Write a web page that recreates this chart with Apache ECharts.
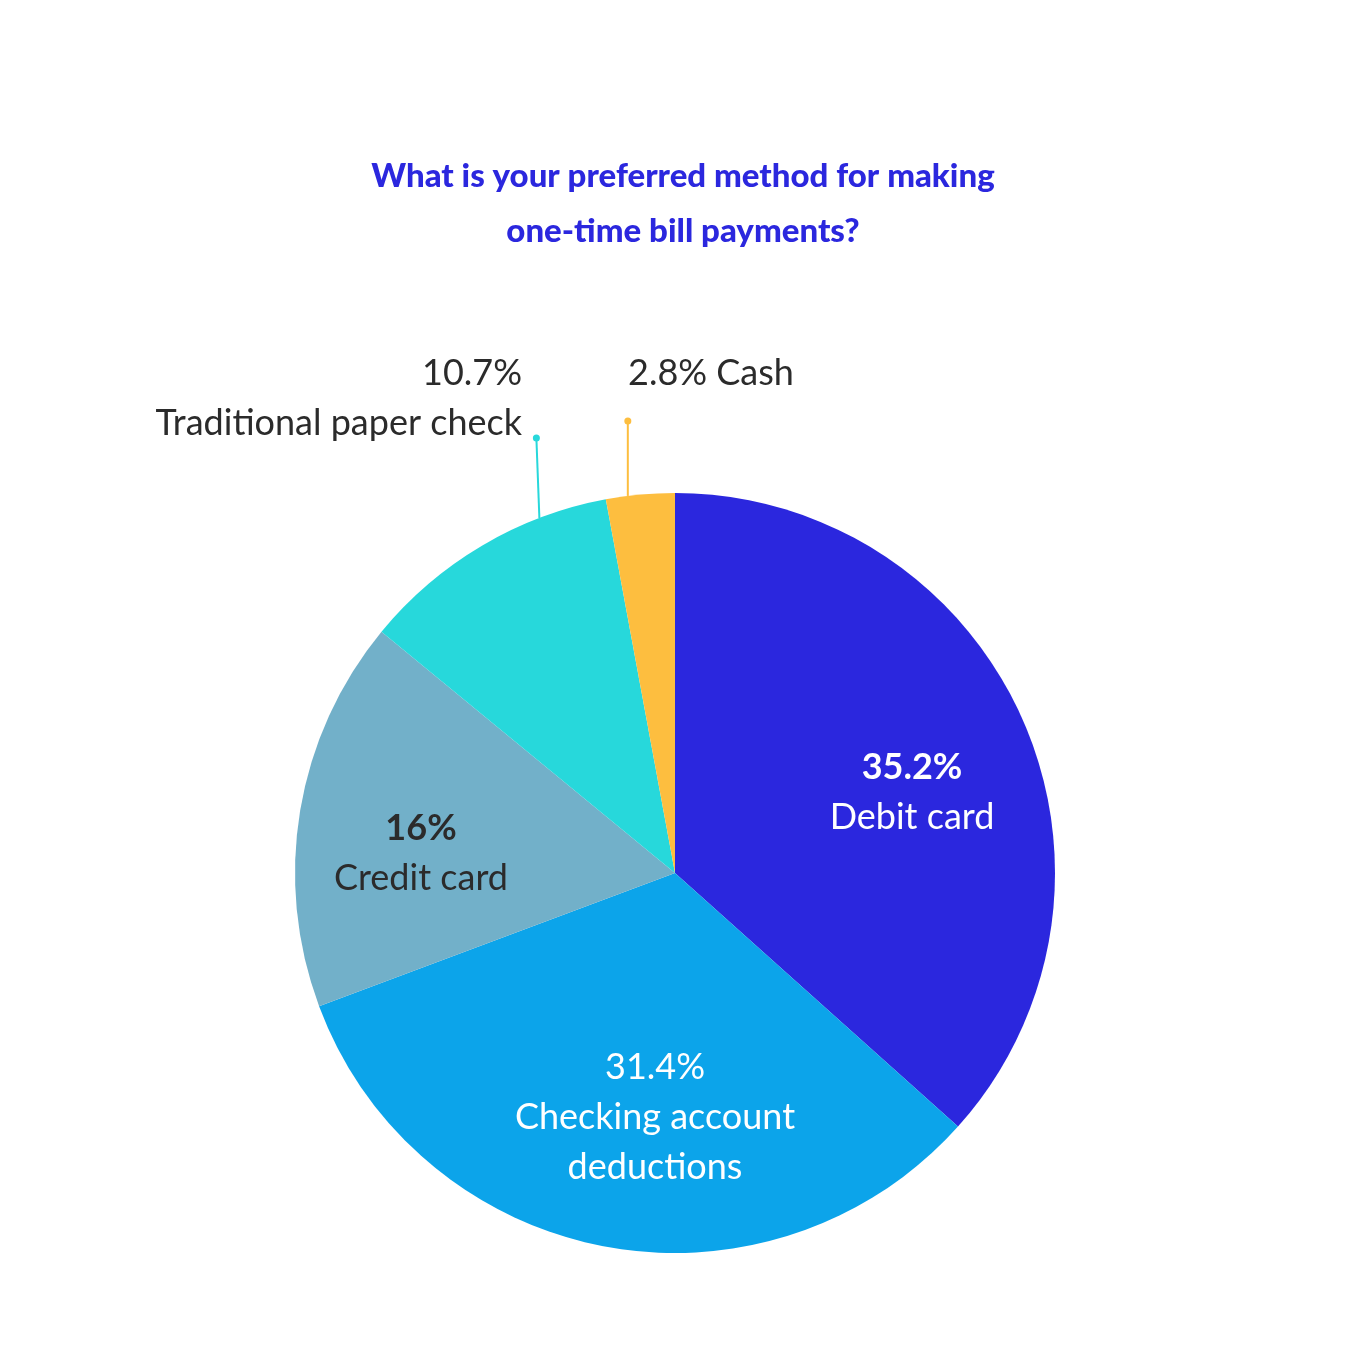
<!DOCTYPE html>
<html>
<head>
<meta charset="utf-8">
<script src="https://cdn.jsdelivr.net/npm/echarts@6.0.0/dist/echarts.min.js"></script>
<style>
html,body{margin:0;padding:0;background:#ffffff;}
#chart{width:1350px;height:1365px;}
</style>
</head>
<body>
<div id="chart"></div>
<script>
// ---- data ----
const categories = ['Debit card', 'Checking account deductions', 'Credit card', 'Traditional paper check', 'Cash'];
const values = [35.2, 31.4, 16, 10.7, 2.8];
const percentLabels = ['35.2%', '31.4%', '16%', '10.7%', '2.8%'];
const colors = ['#2B27DE', '#0CA4EA', '#72B0C9', '#27D8DB', '#FDBE3F'];
const titleText = 'What is your preferred method for making\none-time bill payments?';

// ---- layout constants ----
const CX = 675, CY = 873, R = 380;
const FONT = 'Lato, "Noto Sans", sans-serif';
const DARK = '#2B2B2B';
// label anchor offsets from pie centre [dx, dy, align]
const labelAnchors = [
  [237, -81, 'center'],
  [-20, 244, 'center'],
  [-254, -20, 'center'],
  [-153, -475, 'right'],
  [-47, -500, 'left']
];
// guide lines for small slices: [dataIndex, fraction of slice angle, dot x shift, dot dy from centre]
const guides = [
  [3, 0.74, -3, -435],
  [4, 0.32, 0, -452]
];

function labelFormatter(p) {
  const i = p.dataIndex;
  const pct = percentLabels[i];
  const name = categories[i];
  if (i === 0) return '{pbw|' + pct + '}\n{tw|' + name + '}';
  if (i === 1) return '{pw|' + pct + '}\n{tw|Checking account}\n{tw|deductions}';
  if (i === 2) return '{pbd|' + pct + '}\n{td|' + name + '}';
  if (i === 3) return '{pdr|' + pct + '}\n{tdr|' + name + '}';
  return '{td|' + pct + ' ' + name + '}';
}

const baseText = { fontFamily: FONT, fontSize: 36, lineHeight: 50 };
const rich = {
  pbw: Object.assign({}, baseText, { color: '#ffffff', fontWeight: 'bold' }),
  pw: Object.assign({}, baseText, { color: '#ffffff' }),
  tw: Object.assign({}, baseText, { color: '#ffffff' }),
  pbd: Object.assign({}, baseText, { color: DARK, fontWeight: 'bold' }),
  td: Object.assign({}, baseText, { color: DARK }),
  pdr: Object.assign({}, baseText, { color: DARK, align: 'right' }),
  tdr: Object.assign({}, baseText, { color: DARK, align: 'right' })
};

const seriesData = categories.map((c, i) => ({
  name: c,
  value: values[i],
  itemStyle: { color: colors[i] },
  label: { position: i >= 3 ? 'outside' : 'inside', align: labelAnchors[i][2] }
}));

const chart = echarts.init(document.getElementById('chart'), null, { renderer: 'canvas' });
chart.setOption({
  backgroundColor: '#ffffff',
  animation: false,
  title: {
    text: titleText,
    left: 678,
    top: 144,
    textAlign: 'center',
    textStyle: {
      fontFamily: FONT,
      fontSize: 33,
      fontWeight: 900,
      color: '#2B27DE',
      lineHeight: 55
    }
  },
  series: [{
    type: 'pie',
    center: [CX, CY],
    radius: [0, R],
    startAngle: 90,
    clockwise: true,
    avoidLabelOverlap: false,
    silent: true,
    emphasis: { disabled: true },
    itemStyle: { borderWidth: 0 },
    label: {
      show: true,
      formatter: labelFormatter,
      rich: rich
    },
    labelLine: { show: false },
    labelLayout: function (params) {
      const a = labelAnchors[params.dataIndex];
      return { x: CX + a[0], y: CY + a[1], align: a[2], verticalAlign: 'middle' };
    },
    data: seriesData
  }]
});

// guide lines with dots, derived from the pie's own layout
const data = chart.getModel().getSeriesByIndex(0).getData();
const graphics = [];
guides.forEach(g => {
  const lay = data.getItemLayout(g[0]);
  const ang = lay.startAngle + g[1] * (lay.endAngle - lay.startAngle);
  const px = lay.cx + lay.r * Math.cos(ang);
  const py = lay.cy + lay.r * Math.sin(ang);
  const dx = px + g[2];
  const dy = CY + g[3];
  const col = colors[g[0]];
  graphics.push({
    type: 'line', silent: true,
    shape: { x1: px, y1: py, x2: dx, y2: dy },
    style: { stroke: col, lineWidth: 2 }
  });
  graphics.push({
    type: 'circle', silent: true,
    shape: { cx: dx, cy: dy, r: 3.5 },
    style: { fill: col }
  });
});
chart.setOption({ graphic: graphics });
</script>
</body>
</html>
